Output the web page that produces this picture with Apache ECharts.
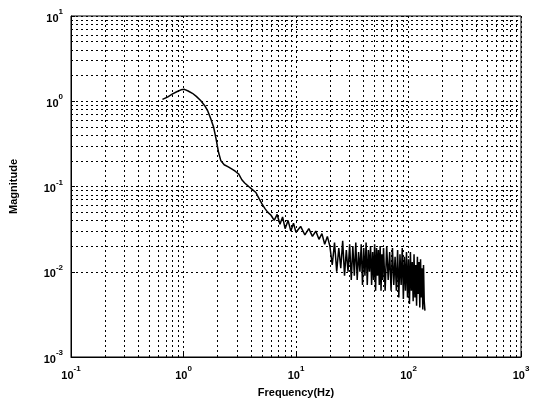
<!DOCTYPE html>
<html>
<head>
<meta charset="utf-8">
<script src="https://cdn.jsdelivr.net/npm/echarts@6/dist/echarts.min.js"></script>
<style>html,body{margin:0;padding:0;background:#fff}#c{width:537px;height:404px}</style>
</head>
<body>
<div id="c"></div>
<script>
// Frequency (Hz) and magnitude
var freq = [0.65,0.72,0.80,0.88,0.95,1.02,1.10,1.20,1.30,1.42,1.55,1.65,1.75,1.85,1.95,2.05,2.15,2.3,2.5,2.7,2.9,3.1,3.3,3.5,3.8,4.1,4.4,4.7,5.0,5.3,5.6,6.0,6.4,6.8,7.2,7.6,8.0,8.5,9.0,9.5,10,11,12,13,14,15,16,17,18,19,
  20,21,22,23,24,25,26,27,28,29,30,31,32,33,34,35,36,37,38,39,40,41,42,43,44,45,46,47,48,49,50,51,52,53,54,55,56,57,58,59,60,
  62,64,66,68,70,72,74,76,78,80,82,84,86,88,90,92,94,96,98,100,102,104,106,108,110,112,114,116,118,120,122,124,126,128,130,132,134,136,138,140];
var mag = [1.05,1.12,1.22,1.30,1.36,1.38,1.32,1.24,1.14,1.02,0.88,0.76,0.62,0.50,0.36,0.25,0.20,0.18,0.17,0.16,0.15,0.14,0.12,0.11,0.10,0.092,0.085,0.072,0.062,0.055,0.050,0.046,0.040,0.047,0.036,0.044,0.032,0.040,0.030,0.037,0.029,0.034,0.027,0.032,0.026,0.030,0.024,0.028,0.021,0.026,
  0.020,0.012,0.022,0.010,0.019,0.011,0.023,0.009,0.018,0.010,0.021,0.008,0.020,0.009,0.022,0.008,0.017,0.010,0.021,0.007,0.019,0.009,0.022,0.007,0.018,0.010,0.020,0.007,0.017,0.008,0.021,0.006,0.019,0.009,0.018,0.007,0.020,0.006,0.016,0.008,0.019,
  0.006,0.020,0.008,0.017,0.006,0.019,0.007,0.015,0.006,0.018,0.005,0.016,0.007,0.019,0.0048,0.015,0.006,0.017,0.005,0.014,0.0042,0.017,0.006,0.013,0.0045,0.016,0.005,0.012,0.004,0.015,0.0055,0.013,0.0038,0.014,0.005,0.011,0.0036,0.012,0.0045,0.0035];
var xTickLabels = ['10^-1','10^0','10^1','10^2','10^3'];
var yTickLabels = ['10^-3','10^-2','10^-1','10^0','10^1'];

var pts = freq.map(function(f,i){return [f, mag[i]];});

function supFmt(v){
  var e = Math.round(Math.log10(v));
  return '{b|10}{s|' + e + '}';
}
var rich = {
  b:{fontSize:11,fontWeight:'bold',fontFamily:'Liberation Sans, Arial',color:'#000',lineHeight:16,verticalAlign:'bottom'},
  s:{fontSize:8,fontWeight:'bold',fontFamily:'Liberation Sans, Arial',color:'#000',lineHeight:16,verticalAlign:'top'}
};

var minorX = [], minorY = [];
[0.1,1,10,100].forEach(function(d){for(var j=2;j<=9;j++) minorX.push({xAxis:j*d});});
[0.001,0.01,0.1,1].forEach(function(d){for(var j=2;j<=9;j++) minorY.push({yAxis:j*d});});

var gridStyle = {color:'#000',type:[2,3],width:1};
var chart = echarts.init(document.getElementById('c'));
chart.setOption({
  animation:false,
  grid:{left:68,right:16,top:16,bottom:47,show:true,borderColor:'#000',borderWidth:1,backgroundColor:'transparent'},
  xAxis:{type:'log',logBase:10,min:0.1,max:1000,
    name:'Frequency(Hz)',nameLocation:'middle',nameGap:30,
    nameTextStyle:{fontSize:11,fontWeight:'bold',fontFamily:'Liberation Sans, Arial',color:'#000'},
    axisLine:{show:true,lineStyle:{color:'#000'}},
    axisTick:{show:true,inside:true,length:4,lineStyle:{color:'#000'}},
    axisLabel:{formatter:supFmt,rich:rich,margin:8},
    splitLine:{show:true,lineStyle:gridStyle}},
  yAxis:{type:'log',logBase:10,min:0.001,max:10,
    name:'Magnitude',nameLocation:'middle',nameGap:52,
    nameTextStyle:{fontSize:11,fontWeight:'bold',fontFamily:'Liberation Sans, Arial',color:'#000'},
    axisLine:{show:true,lineStyle:{color:'#000'}},
    axisTick:{show:true,inside:true,length:4,lineStyle:{color:'#000'}},
    axisLabel:{formatter:supFmt,rich:rich,margin:8},
    splitLine:{show:true,lineStyle:gridStyle}},
  series:[
    {type:'line',data:pts,showSymbol:false,symbol:'none',lineStyle:{color:'#000',width:1.5},z:5,
     markLine:{silent:true,symbol:'none',label:{show:false},lineStyle:gridStyle,animation:false,
       data:minorX.concat(minorY)}}
  ]
});
</script>
</body>
</html>
